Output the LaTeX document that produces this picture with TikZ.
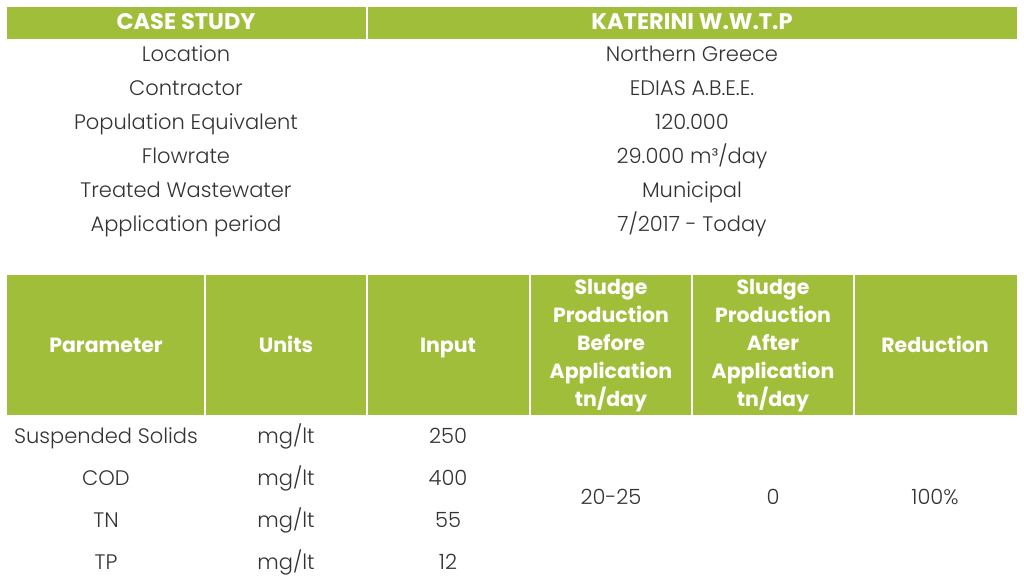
\documentclass[tikz,border=0pt]{standalone}
\usepackage{fontspec}
\setmainfont{Poppins}[UprightFont=* Light, BoldFont=* Bold]
\definecolor{hdrgreen}{RGB}{161,190,58}
\definecolor{txtgrey}{RGB}{51,51,51}
\begin{document}
\begin{tikzpicture}[x=1pt,y=-1pt,
  cellbox/.style={fill=hdrgreen,draw=none},
  hdrtext/.style={text=white,font=\fontsize{20.5}{28}\selectfont\bfseries,align=center,inner sep=0pt},
  toptext/.style={hdrtext,font=\fontsize{22.5}{28}\selectfont\bfseries,anchor=base},
  bodytext/.style={text=txtgrey,font=\fontsize{21}{24}\selectfont,inner sep=0pt,anchor=base,text height=14pt,text depth=4pt}]
\useasboundingbox (0,0) rectangle (1024,588);
% top header
\fill[cellbox] (7,7) rectangle (366,39);
\fill[cellbox] (368,7) rectangle (1017,39);
\node[toptext] (h1) at (186,30) {CASE STUDY};
\node[toptext] (h2) at (692,30) {KATERINI W.W.T.P};
% info rows
\foreach \y/\a/\b [count=\i] in {55/{Location}/{Northern Greece}, 89/{Contractor}/{EDIAS A.B.E.E.}, 123/{Population Equivalent}/{120.000}, 157/{Flowrate}/{29.000 m³/day}, 190/{Treated Wastewater}/{Municipal}, 224/{Application period}/{7/2017 - Today}}{
  \node[bodytext] (l\i) at (186,\y+7) {\a};
  \node[bodytext] (r\i) at (692,\y+7) {\b};
}
% lower header
\fill[cellbox] (7,275) rectangle (204,415);
\fill[cellbox] (206,275) rectangle (366,415);
\fill[cellbox] (368,275) rectangle (529,415);
\fill[cellbox] (531,275) rectangle (691,415);
\fill[cellbox] (693,275) rectangle (853,415);
\fill[cellbox] (855,275) rectangle (1017,415);
\node[hdrtext,anchor=base] (p1) at (106,352) {Parameter};
\node[hdrtext,anchor=base] (p2) at (286,352) {Units};
\node[hdrtext,anchor=base] (p3) at (448,352) {Input};
\node[hdrtext,anchor=center] (p4) at (611,345) {\strut Sludge\\Production\\Before\\Application\\tn/day\strut};
\node[hdrtext,anchor=center] (p5) at (773,345) {\strut Sludge\\Production\\After\\Application\\tn/day\strut};
\node[hdrtext,anchor=base] (p6) at (935,352) {Reduction};
% data rows
\foreach \y/\a/\c [count=\i] in {436/{Suspended Solids}/{250}, 478/{COD}/{400}, 520/{TN}/{55}, 562/{TP}/{12}}{
  \node[bodytext] (d\i a) at (106,\y+7) {\a};
  \node[bodytext] (d\i b) at (286,\y+7) {mg/lt};
  \node[bodytext] (d\i c) at (448,\y+7) {\c};
}
\node[bodytext] (m1) at (611,504) {20-25};
\node[bodytext] (m2) at (773,504) {0};
\node[bodytext] (m3) at (935,504) {100\%};
\end{tikzpicture}
\end{document}
